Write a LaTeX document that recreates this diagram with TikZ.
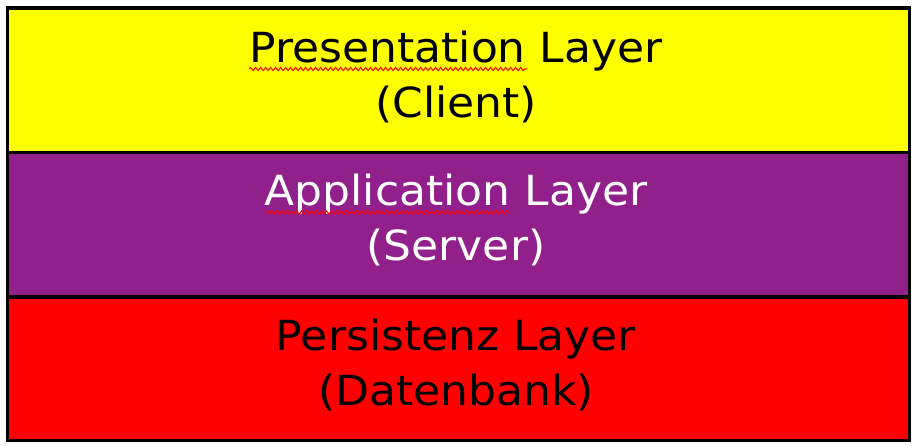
\documentclass[tikz,border=0pt]{standalone}
\usepackage{fontspec}
\setmainfont{DejaVu Sans}[FakeStretch=1.06]
\usetikzlibrary{decorations.pathmorphing}
\definecolor{layeryellow}{RGB}{255,255,0}
\definecolor{layerpurple}{RGB}{146,32,140}
\definecolor{layerred}{RGB}{255,0,0}
\tikzset{
  layerbox/.style={draw=black, line width=3.6pt, minimum width=902pt, inner sep=0pt, anchor=north west},
  layertext/.style={align=center, font=\fontsize{41.5}{54.5}\selectfont, inner sep=0pt},
  spell/.style={draw=red, line width=1pt, decorate, decoration={snake, amplitude=1.6pt, segment length=5pt}}
}
\begin{document}
\begin{tikzpicture}[x=1pt,y=-1pt]
\useasboundingbox (0,0) rectangle (913,446);
\node[layerbox, fill=layeryellow, minimum height=144.5pt] (pres) at (5.6,6.1) {};
\node[layerbox, fill=layerpurple, minimum height=144.5pt] (app) at (5.6,150.6) {};
\node[layerbox, fill=layerred, minimum height=143.5pt] (pers) at (5.6,295.1) {};
\node[layertext, text=black] (prest) at (456,77) {Presentation Layer\\(Client)};
\node[layertext, text=white] (appt) at (456,220) {Application Layer\\(Server)};
\node[layertext, text=black] (perst) at (456,365) {Persistenz Layer\\(Datenbank)};
\draw[spell] (249,69) -- (527,69);
\draw[spell] (265,212.5) -- (510,212.5);
\end{tikzpicture}
\end{document}
